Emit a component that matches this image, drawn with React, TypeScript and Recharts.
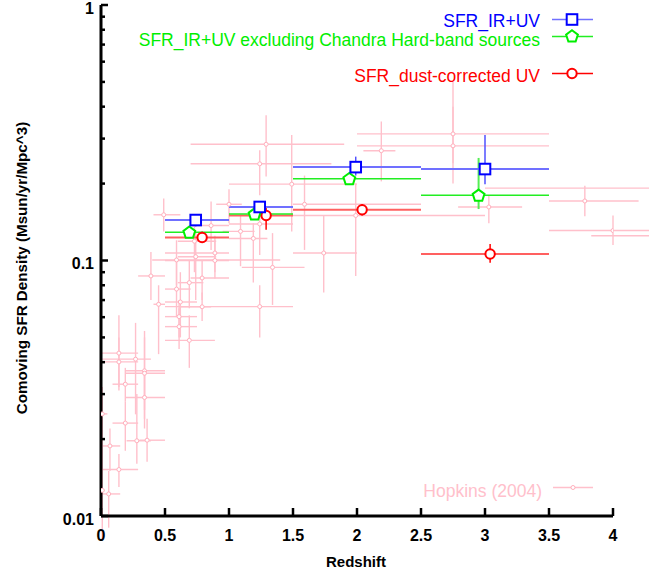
import React from "react";
import { ScatterChart, Scatter, XAxis, YAxis, ErrorBar } from "recharts";

const W = 649;
const H = 578;
const LEFT = 101;
const RIGHT = 613;
const TOP = 5;
const BOTTOM = 516;

const X_TICKS = [0, 0.5, 1, 1.5, 2, 2.5, 3, 3.5, 4];
const Y_TICKS = [
  0.01, 0.02, 0.03, 0.04, 0.05, 0.06, 0.07, 0.08, 0.09,
  0.1, 0.2, 0.3, 0.4, 0.5, 0.6, 0.7, 0.8, 0.9, 1,
];
const Y_LABELED = [0.01, 0.1, 1];

// redshift bins shared by the three GOODS estimates
const BIN_LO = [0.5, 1.0, 1.5, 2.5];
const BIN_HI = [1.0, 1.5, 2.5, 3.5];

const IRUV_Z = [0.74, 1.24, 1.99, 3.0];
const IRUV_SFR = [0.144, 0.162, 0.232, 0.228];
const IRUV_LO = [0.136, 0.153, 0.215, 0.199];
const IRUV_HI = [0.152, 0.171, 0.255, 0.31];

const NOHARD_Z = [0.69, 1.2, 1.94, 2.95];
const NOHARD_SFR = [0.129, 0.152, 0.209, 0.18];
const NOHARD_LO = [0.123, 0.145, 0.198, 0.159];
const NOHARD_HI = [0.135, 0.16, 0.22, 0.252];

const UV_Z = [0.79, 1.29, 2.04, 3.04];
const UV_SFR = [0.123, 0.15, 0.158, 0.106];
const UV_LO = [0.117, 0.132, 0.15, 0.098];
const UV_HI = [0.13, 0.162, 0.166, 0.116];

// Hopkins (2004) compilation
const HOP_Z = [
  0.49, 1.0, 0.86, 0.73, 0.89, 0.89, 0.59, 0.74, 0.39, 0.79, 0.69, 0.59, 0.62,
  0.45, 0.79, 0.61, 0.61, 0.69, 0.14, 0.14, 0.27, 0.34, 0.34, 0.19, 0.34, 0.01,
  0.19, 0.28, 0.36, 0.07, 0.14, 0.01, 0.06, 1.09, 1.19, 1.24, 1.34, 1.24, 1.74,
  1.59, 1.99, 1.29, 1.24, 1.49, 2.19, 2.75, 2.75, 3.03, 3.78, 4.0, 4.3, 4.4,
];
const HOP_ZLO = [
  0.41, 0.9, 0.7, 0.6, 0.5, 0.5, 0.4, 0.6, 0.29, 0.7, 0.6, 0.5, 0.5,
  0.41, 0.61, 0.5, 0.5, 0.5, 0.0, 0.0, 0.0, 0.19, 0.19, 0.09, 0.19, 0.0,
  0.09, 0.2, 0.3, 0.0, 0.0, 0.0, 0.0, 0.95, 1.0, 1.0, 1.1, 0.5, 1.5,
  1.5, 1.5, 0.7, 0.7, 1.0, 2.05, 2.0, 2.0, 2.79, 3.5, 3.5, 3.0, 3.83,
];
const HOP_ZHI = [
  0.62, 1.1, 1.0, 0.9, 1.0, 1.0, 1.4, 0.9, 0.5, 1.0, 0.8, 0.7, 0.75,
  0.5, 0.86, 0.75, 0.75, 0.89, 0.29, 0.29, 0.39, 0.5, 0.5, 0.29, 0.5, 0.05,
  0.29, 0.39, 0.5, 0.15, 0.29, 0.03, 0.15, 1.2, 1.3, 1.5, 1.59, 1.5, 2.0,
  2.5, 3.0, 1.9, 1.8, 2.0, 2.3, 3.5, 3.5, 3.29, 4.2, 4.5, 5.0, 5.0,
];
const HOP_SFR = [
  0.151, 0.166, 0.137, 0.119, 0.107, 0.1, 0.1005, 0.1035, 0.087, 0.0854, 0.0819, 0.0773, 0.0688,
  0.0674, 0.0659, 0.0603, 0.0551, 0.0487, 0.0434, 0.0401, 0.0411, 0.037, 0.0362, 0.0328, 0.0291, 0.0251,
  0.0231, 0.0197, 0.0198, 0.0188, 0.0152, 0.0126, 0.0122, 0.13, 0.122, 0.139, 0.094, 0.066, 0.107,
  0.166, 0.15, 0.285, 0.239, 0.199, 0.269, 0.313, 0.281, 0.162, 0.171, 0.131, 0.192, 0.125,
];
const HOP_LO = [
  0.13, 0.14, 0.11, 0.09, 0.09, 0.085, 0.08, 0.07, 0.07, 0.07, 0.065, 0.06, 0.05,
  0.043, 0.058, 0.05, 0.045, 0.038, 0.031, 0.032, 0.025, 0.024, 0.026, 0.028, 0.022, 0.02,
  0.018, 0.016, 0.0163, 0.015, 0.013, 0.008, 0.009, 0.095, 0.082, 0.105, 0.067, 0.05, 0.075,
  0.11, 0.087, 0.213, 0.18, 0.13, 0.204, 0.24, 0.2, 0.14, 0.149, 0.115, 0.17, 0.11,
];
const HOP_HI = [
  0.175, 0.19, 0.17, 0.15, 0.125, 0.12, 0.12, 0.13, 0.108, 0.1, 0.1, 0.1, 0.09,
  0.08, 0.075, 0.07, 0.065, 0.061, 0.061, 0.05, 0.057, 0.053, 0.05, 0.038, 0.036, 0.032,
  0.028, 0.03, 0.024, 0.022, 0.0175, 0.03, 0.015, 0.15, 0.14, 0.16, 0.128, 0.08, 0.15,
  0.215, 0.2, 0.37, 0.27, 0.31, 0.35, 0.5, 0.4, 0.18, 0.196, 0.15, 0.21, 0.14,
];

const build = (z: number[], zlo: number[], zhi: number[], v: number[], lo: number[], hi: number[]) =>
  z.map((zz, i) => ({
    z: zz,
    sfr: v[i],
    ex: [zz - zlo[i], zhi[i] - zz],
    ey: [v[i] - lo[i], hi[i] - v[i]],
  }));

const iruv = build(IRUV_Z, BIN_LO, BIN_HI, IRUV_SFR, IRUV_LO, IRUV_HI);
const nohard = build(NOHARD_Z, BIN_LO, BIN_HI, NOHARD_SFR, NOHARD_LO, NOHARD_HI);
const uv = build(UV_Z, BIN_LO, BIN_HI, UV_SFR, UV_LO, UV_HI);
const hopkins = build(HOP_Z, HOP_ZLO, HOP_ZHI, HOP_SFR, HOP_LO, HOP_HI);

const FONT = "'Liberation Sans', Arial, Helvetica, sans-serif";
const BLUE = "#0000ff";
const GREEN = "#00ee00";
const RED = "#ff0000";
const PINK = "#ffc0cb";

const pentagonPts = (cx: number, cy: number, r: number) =>
  [0, 1, 2, 3, 4]
    .map((k) => {
      const a = -Math.PI / 2 + (k * 2 * Math.PI) / 5;
      return `${cx + r * Math.cos(a)},${cy + r * Math.sin(a)}`;
    })
    .join(" ");

const Square = ({ cx, cy }: any) => (
  <rect x={cx - 5.3} y={cy - 5.3} width={10.6} height={10.6} fill="#fff" stroke={BLUE} strokeWidth={2} />
);
const Pentagon = ({ cx, cy }: any) => (
  <polygon points={pentagonPts(cx, cy + 0.5, 6.2)} fill="#fff" stroke={GREEN} strokeWidth={2} />
);
const Ring = ({ cx, cy }: any) => <circle cx={cx} cy={cy} r={4.7} fill="#fff" stroke={RED} strokeWidth={2} />;
const Dot = ({ cx, cy }: any) => <circle cx={cx} cy={cy} r={2} fill="#fff" stroke="#ffb0bd" strokeWidth={1} />;

function BottomTick({ x, payload }: any) {
  return (
    <g>
      <line x1={x} y1={BOTTOM} x2={x} y2={BOTTOM - 8} stroke="#000" strokeWidth={2.5} />
      <text x={x} y={541} textAnchor="middle" fontSize={16} fontWeight="bold" fontFamily={FONT} fill="#000">
        {payload.value}
      </text>
    </g>
  );
}

function TopTick({ x }: any) {
  return <line x1={x} y1={TOP} x2={x} y2={TOP + 8} stroke="#000" strokeWidth={2.5} />;
}

function LeftTick({ y, payload }: any) {
  const major = Y_LABELED.includes(payload.value);
  return (
    <g>
      <line x1={LEFT} y1={y} x2={LEFT + (major ? 7 : 4)} y2={y} stroke="#000" strokeWidth={2.5} />
      {major && (
        <text x={94} y={y + 8.5} textAnchor="end" fontSize={16} fontWeight="bold" fontFamily={FONT} fill="#000">
          {payload.value}
        </text>
      )}
    </g>
  );
}

function RightTick({ y, payload }: any) {
  const major = Y_LABELED.includes(payload.value);
  return <line x1={RIGHT} y1={y} x2={RIGHT - (major ? 7 : 4)} y2={y} stroke="#000" strokeWidth={2.5} />;
}

const legendText = { fontSize: 17.5, fontFamily: FONT } as const;

export default function App() {
  return (
    <div style={{ position: "absolute", left: 0, top: 0, width: W, height: H, background: "#fff" }}>
      <ScatterChart width={W} height={H} margin={{ top: TOP, right: W - RIGHT, bottom: 0, left: 0 }}>
        <XAxis
          xAxisId="b"
          dataKey="z"
          type="number"
          domain={[0, 4]}
          ticks={X_TICKS}
          interval={0}
          allowDataOverflow
          height={H - BOTTOM}
          tickLine={false}
          axisLine={{ stroke: "#000", strokeWidth: 3 }}
          tick={<BottomTick />}
        />
        <XAxis
          xAxisId="t"
          orientation="top"
          type="number"
          domain={[0, 4]}
          ticks={X_TICKS}
          interval={0}
          allowDataOverflow
          height={0}
          tickLine={false}
          axisLine={{ stroke: "#000", strokeWidth: 3 }}
          tick={<TopTick />}
        />
        <YAxis
          yAxisId="l"
          dataKey="sfr"
          type="number"
          scale="log"
          domain={[0.01, 1]}
          ticks={Y_TICKS}
          interval={0}
          allowDataOverflow
          width={LEFT}
          tickLine={false}
          axisLine={{ stroke: "#000", strokeWidth: 3 }}
          tick={<LeftTick />}
        />
        <YAxis
          yAxisId="r"
          orientation="right"
          type="number"
          scale="log"
          domain={[0.01, 1]}
          ticks={Y_TICKS}
          interval={0}
          allowDataOverflow
          width={0}
          tickLine={false}
          axisLine={{ stroke: "#000", strokeWidth: 3 }}
          tick={<RightTick />}
        />

        <Scatter data={hopkins} xAxisId="b" yAxisId="l" shape={<Dot />} isAnimationActive={false}>
          <ErrorBar dataKey="ex" direction="x" width={0} stroke={PINK} strokeWidth={1.4} isAnimationActive={false} />
          <ErrorBar dataKey="ey" direction="y" width={0} stroke={PINK} strokeWidth={1.4} isAnimationActive={false} />
        </Scatter>
        <Scatter data={uv} xAxisId="b" yAxisId="l" shape={<Ring />} isAnimationActive={false}>
          <ErrorBar dataKey="ex" direction="x" width={0} stroke="#ff6060" strokeWidth={2} isAnimationActive={false} />
          <ErrorBar dataKey="ey" direction="y" width={0} stroke={RED} strokeWidth={1.5} isAnimationActive={false} />
        </Scatter>
        <Scatter data={nohard} xAxisId="b" yAxisId="l" shape={<Pentagon />} isAnimationActive={false}>
          <ErrorBar dataKey="ex" direction="x" width={0} stroke="#22ee22" strokeWidth={1.6} isAnimationActive={false} />
          <ErrorBar dataKey="ey" direction="y" width={0} stroke="#55ee55" strokeWidth={2} isAnimationActive={false} />
        </Scatter>
        <Scatter data={iruv} xAxisId="b" yAxisId="l" shape={<Square />} isAnimationActive={false}>
          <ErrorBar dataKey="ex" direction="x" width={0} stroke="#7070ff" strokeWidth={2} isAnimationActive={false} />
          <ErrorBar dataKey="ey" direction="y" width={0} stroke="#5050ff" strokeWidth={1.5} isAnimationActive={false} />
        </Scatter>
      </ScatterChart>

      <svg
        width={W}
        height={H}
        style={{ position: "absolute", left: 0, top: 0, pointerEvents: "none" }}
      >
        <text x={540} y={27} textAnchor="end" fill={BLUE} {...legendText}>SFR_IR+UV</text>
        <line x1={552} y1={19.5} x2={593} y2={19.5} stroke="#7070ff" strokeWidth={1.5} />
        <Square cx={572} cy={19.5} />

        <text x={540} y={46} textAnchor="end" fill={GREEN} {...legendText}>
          SFR_IR+UV excluding Chandra Hard-band sources
        </text>
        <line x1={552} y1={36.5} x2={593} y2={36.5} stroke="#22ee22" strokeWidth={1.5} />
        <Pentagon cx={572} cy={36} />

        <text x={540} y={82} textAnchor="end" fill={RED} {...legendText}>SFR_dust-corrected UV</text>
        <line x1={552} y1={73.5} x2={593} y2={73.5} stroke={RED} strokeWidth={1.5} />
        <Ring cx={572} cy={73.5} />

        <text x={542} y={497} textAnchor="end" fill={PINK} {...legendText}>Hopkins (2004)</text>
        <line x1={553} y1={487.5} x2={593} y2={487.5} stroke={PINK} strokeWidth={1.4} />
        <Dot cx={573} cy={487.5} />

        <text x={356} y={567} textAnchor="middle" fontSize={15} fontWeight="bold" fontFamily={FONT} fill="#000">
          Redshift
        </text>
        <text
          transform="translate(27,268) rotate(-90)"
          textAnchor="middle"
          fontSize={15.2}
          fontWeight="bold"
          fontFamily={FONT}
          fill="#000"
        >
          Comoving SFR Density  (Msun/yr/Mpc^3)
        </text>
      </svg>
    </div>
  );
}
